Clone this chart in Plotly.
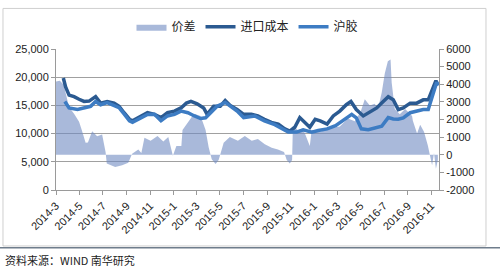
import plotly.graph_objects as go

# ---- data ----
cost_dates = ["2014-03-20","2014-03-26","2014-04-04","2014-04-17","2014-04-30","2014-05-13","2014-05-26",
    "2014-06-12","2014-06-25","2014-07-12","2014-07-30","2014-08-12","2014-08-25","2014-09-08","2014-09-16",
    "2014-10-08","2014-10-25","2014-11-12","2014-11-29","2014-12-16","2015-01-03","2015-01-20","2015-02-03",
    "2015-02-15","2015-03-03","2015-03-20","2015-03-29","2015-04-15","2015-05-02","2015-05-15","2015-05-28",
    "2015-06-15","2015-07-02","2015-07-22","2015-08-08","2015-08-25","2015-09-12","2015-09-30","2015-10-17",
    "2015-10-30","2015-11-12","2015-11-25","2015-12-08","2015-12-21","2016-01-04","2016-01-17","2016-02-04",
    "2016-02-20","2016-03-08","2016-03-25","2016-04-06","2016-04-20","2016-05-08","2016-05-21","2016-06-12",
    "2016-06-29","2016-07-12","2016-07-25","2016-08-07","2016-08-20","2016-09-07","2016-09-24","2016-10-11",
    "2016-10-24","2016-11-02","2016-11-13","2016-11-18"]
cost_values = [19860,18270,16830,16550,16090,15700,15760,
    16550,15400,15700,15400,14840,13700,12550,12270,
    13130,13700,13410,12840,13700,13990,14550,15400,
    15700,15290,14550,13410,14840,14840,15870,15000,
    14260,13410,13410,13130,12550,11980,11700,10840,
    10440,11130,12840,11980,11130,12550,12270,11700,
    13130,13990,15120,15700,14260,13130,13700,14550,
    15700,16550,16000,14260,14550,15400,15400,15980,
    15980,17400,19400,18540]

shfe_dates = ["2014-03-24","2014-04-04","2014-04-26","2014-05-13","2014-05-30","2014-06-12","2014-06-25",
    "2014-07-12","2014-07-25","2014-08-12","2014-08-25","2014-09-08","2014-09-16","2014-10-08","2014-10-25",
    "2014-11-12","2014-11-29","2014-12-16","2015-01-03","2015-01-20","2015-02-07","2015-02-24","2015-03-12",
    "2015-03-25","2015-04-07","2015-04-24","2015-05-15","2015-05-28","2015-06-15","2015-07-02","2015-07-31",
    "2015-08-25","2015-09-21","2015-10-26","2015-11-17","2015-12-04","2015-12-26","2016-01-12","2016-02-04",
    "2016-02-26","2016-03-19","2016-04-08","2016-04-20","2016-05-03","2016-05-21","2016-06-12","2016-06-25",
    "2016-07-12","2016-07-25","2016-08-07","2016-08-20","2016-09-07","2016-09-24","2016-10-11","2016-10-24",
    "2016-11-02","2016-11-15","2016-11-19"]
shfe_values = [15700,14550,14260,14550,14840,15700,15120,
    15500,15120,14600,13500,12270,12000,12850,13400,
    13410,12270,13130,13410,13990,13700,13130,12670,
    12800,13700,14840,15530,14840,13990,12840,13130,
    12270,11590,10270,10270,10670,10270,10560,10840,
    11420,12550,13410,12800,10840,10700,11130,11300,
    12840,12600,12550,12800,13700,13990,14260,14260,
    16260,19120,18540]

spread_dates = ["2014-03-01","2014-03-11","2014-03-21","2014-04-04","2014-04-17","2014-04-30","2014-05-07",
    "2014-05-17","2014-05-23","2014-06-03","2014-06-16","2014-06-29","2014-07-08","2014-07-11","2014-08-02",
    "2014-08-20","2014-09-05","2014-09-15","2014-10-01","2014-10-09","2014-10-17","2014-11-02","2014-11-20",
    "2014-12-05","2014-12-18","2014-12-26","2014-12-30","2015-01-08","2015-01-21","2015-01-24","2015-02-06",
    "2015-02-23","2015-03-12","2015-03-25","2015-04-02","2015-04-10","2015-04-20","2015-04-28","2015-05-02",
    "2015-05-11","2015-05-27","2015-06-17","2015-07-05","2015-07-23","2015-08-08","2015-08-26","2015-09-13",
    "2015-09-29","2015-10-15","2015-10-22","2015-10-30","2015-11-05","2015-11-07","2015-11-20","2015-12-03",
    "2015-12-21","2015-12-26","2016-01-17","2016-02-11","2016-03-08","2016-03-29","2016-04-16","2016-05-01",
    "2016-05-12","2016-05-25","2016-06-07","2016-06-15","2016-06-25","2016-07-03","2016-07-11","2016-07-18",
    "2016-07-21","2016-07-29","2016-08-11","2016-08-25","2016-09-12","2016-09-14","2016-09-25","2016-10-03",
    "2016-10-13","2016-10-23","2016-10-28","2016-11-03","2016-11-08","2016-11-13","2016-11-18"]
spread_values = [4150,4200,3970,2700,2330,1870,1410,
    685,700,1330,1050,1150,140,-500,-700,
    -600,-450,50,300,100,960,800,1070,
    750,1000,400,-50,500,500,1410,1780,
    2330,2200,1410,420,-250,-520,-300,0,
    685,1000,800,1060,800,900,600,400,
    300,150,-300,-500,-300,1600,1400,1500,
    500,1420,1300,1500,1600,2050,1900,2420,
    3150,2800,2900,2600,3520,4610,5300,5400,
    4080,2600,2300,2600,2200,1930,1200,1700,
    1300,530,0,-600,100,-800,-300]

tick_dates = ["2014-03-01","2014-05-01","2014-07-01","2014-09-01","2014-11-01","2015-01-01","2015-03-01",
    "2015-05-01","2015-07-01","2015-09-01","2015-11-01","2016-01-01","2016-03-01","2016-05-01",
    "2016-07-01","2016-09-01","2016-11-01"]
tick_labels = ["2014-3","2014-5","2014-7","2014-9","2014-11","2015-1","2015-3","2015-5","2015-7",
    "2015-9","2015-11","2016-1","2016-3","2016-5","2016-7","2016-9","2016-11"]
left_ticks = [0, 5000, 10000, 15000, 20000, 25000]
right_ticks = [-2000, -1000, 0, 1000, 2000, 3000, 4000, 5000, 6000]

FONT = "Liberation Sans, Arial, Noto Sans CJK SC, sans-serif"
AXC = "#9a9a9a"

fig = go.Figure()
fig.add_trace(go.Scatter(x=spread_dates, y=spread_values, name="价差", mode="lines",
                         line=dict(width=0, color="rgba(112,138,193,0.6)"), fill="tozeroy",
                         fillcolor="rgba(112,138,193,0.6)", yaxis="y"))
fig.add_trace(go.Scatter(x=cost_dates, y=cost_values, name="进口成本", mode="lines",
                         line=dict(width=3.5, color="#2b5a91"), yaxis="y2"))
fig.add_trace(go.Scatter(x=shfe_dates, y=shfe_values, name="沪胶", mode="lines",
                         line=dict(width=3.5, color="#3d7cc3"), yaxis="y2"))

fig.update_layout(
    width=500, height=274, paper_bgcolor="white", plot_bgcolor="white",
    margin=dict(l=56, r=61, t=44, b=84),
    font=dict(family=FONT, size=11, color="#222"),
    showlegend=True,
    legend=dict(orientation="h", x=0.5, xanchor="center", y=1.158, yanchor="middle",
                font=dict(size=12, family="Noto Sans CJK SC, sans-serif", color="#222"),
                itemwidth=30, bgcolor="rgba(0,0,0,0)"),
    xaxis=dict(type="date", range=["2014-03-01", "2016-11-21"], tickvals=tick_dates, ticktext=tick_labels,
               tickangle=-45, ticks="outside", ticklen=4, tickcolor=AXC, showline=True, linecolor=AXC,
               showgrid=False, zeroline=False, tickfont=dict(size=11)),
    yaxis=dict(side="right", range=[-2000, 6000], tickvals=right_ticks,
               ticktext=[str(v) for v in right_ticks], showgrid=False, zeroline=False,
               showline=True, linecolor=AXC, ticks="outside", ticklen=4, tickcolor=AXC,
               tickfont=dict(size=11)),
    yaxis2=dict(side="left", overlaying="y", range=[0, 25000], tickvals=left_ticks,
                ticktext=[f"{v:,}" for v in left_ticks], showgrid=True, gridcolor="#a0a0a0",
                gridwidth=1, zeroline=False, showline=True, linecolor=AXC, ticks="outside",
                ticklen=4, tickcolor=AXC, tickfont=dict(size=11)),
    shapes=[
        dict(type="rect", xref="paper", yref="paper", x0=-0.1384, x1=1.1227, y0=-0.397, y1=1.2877,
             line=dict(color="#cfcfcf", width=1)),
        dict(type="line", xref="paper", yref="paper", x0=-0.15, x1=1.2, y0=-0.41, y1=-0.41,
             line=dict(color="#6f7d8c", width=1.5)),
    ],
    annotations=[
        dict(text="资料来源：WIND 南华研究", xref="paper", yref="paper", x=-0.138, y=-0.493,
             xanchor="left", yanchor="middle", showarrow=False,
             font=dict(size=11, family="Noto Sans CJK SC, sans-serif", color="#222")),
    ],
)

fig.write_html("out.html")
